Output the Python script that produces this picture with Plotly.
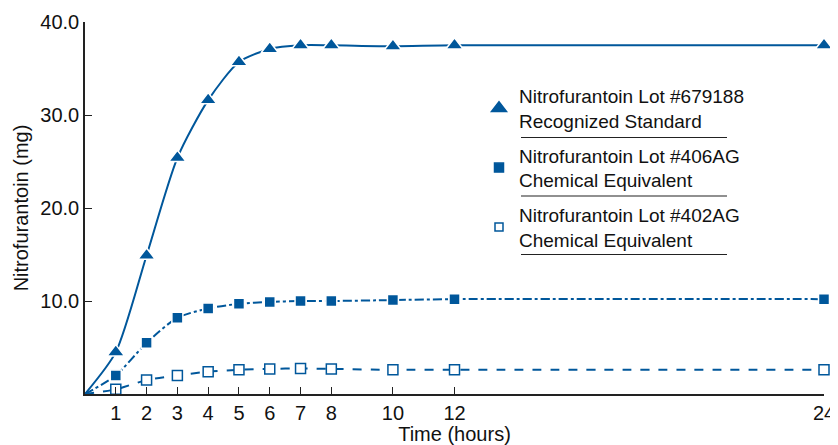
import plotly.graph_objects as go

time_h = [0, 1, 2, 3, 4, 5, 6, 7, 8, 10, 12, 24]
lot_679188 = [0, 4.5, 14.9, 25.4, 31.6, 35.7, 37.1, 37.5, 37.5, 37.4, 37.5, 37.5]
lot_406AG = [0, 2.0, 5.5, 8.2, 9.2, 9.7, 9.9, 10.0, 10.0, 10.1, 10.2, 10.2]
lot_402AG = [0, 0.5, 1.5, 2.0, 2.4, 2.6, 2.7, 2.75, 2.7, 2.6, 2.6, 2.6]
x_ticks = [1, 2, 3, 4, 5, 6, 7, 8, 10, 12, 24]
y_ticks = [10, 20, 30, 40]
y_tick_labels = ["10.0", "20.0", "30.0", "40.0"]
names = [
    "Nitrofurantoin Lot #679188<br>Recognized Standard",
    "Nitrofurantoin Lot #406AG<br>Chemical Equivalent",
    "Nitrofurantoin Lot #402AG<br>Chemical Equivalent",
]

BLUE = "#00579b"
FONT = "Liberation Sans, Arial, sans-serif"
FS = 20
FS_LEG = 19

# (values, symbol, size, fill, outline, dash)
series = [
    (lot_679188, "triangle-up", 15, BLUE, "white", "solid"),
    (lot_406AG, "square", 11, BLUE, "white", "dashdot"),
    (lot_402AG, "square", 10, "white", BLUE, "dash"),
]

fig = go.Figure()
for vals, sym, size, fill, outline, dash in series:
    fig.add_trace(go.Scatter(
        x=time_h, y=vals, mode="lines", showlegend=False,
        line=dict(color=BLUE, width=2, dash=dash, shape="spline", smoothing=0.7),
    ))
    fig.add_trace(go.Scatter(
        x=time_h[1:], y=vals[1:], mode="markers", showlegend=False, cliponaxis=False,
        marker=dict(symbol=sym, size=size, color=fill, line=dict(color=outline, width=1.5)),
    ))
for i, (vals, sym, size, fill, outline, dash) in enumerate(series):
    fig.add_trace(go.Scatter(
        x=[None], y=[None], mode="markers", name=names[i], legendgroup=str(i),
        marker=dict(symbol=sym, size=size - 2, color=fill,
                    line=dict(color=BLUE if fill == "white" else fill, width=1.5)),
    ))

# body has an 8px default margin in the written page
OFF = 8
L, R, T, B = 77, 14, 14, 51
FW, FH = 830, 437
W, H = FW - L - R, FH - T - B
def px(xw):
    return (xw - OFF - L) / W
def py(yw):
    return 1 - (yw - OFF - T) / H
for yline in [137.5, 196, 254.5]:
    fig.add_shape(type="line", xref="paper", yref="paper",
                  x0=px(521), x1=px(727), y0=py(yline), y1=py(yline),
                  line=dict(color="#222", width=1.2))

fig.update_layout(
    width=FW, height=FH,
    margin=dict(l=L, r=R, t=T, b=B),
    paper_bgcolor="white", plot_bgcolor="white",
    font=dict(family=FONT, size=FS, color="#111"),
    legend=dict(x=px(479), y=py(77), xanchor="left", yanchor="top",
                bgcolor="rgba(0,0,0,0)", tracegroupgap=7,
                font=dict(size=FS_LEG), itemwidth=30),
    xaxis=dict(range=[0, 24], tickvals=x_ticks, ticks="inside", ticklen=7,
               tickcolor="#222", showline=True, linecolor="#222", linewidth=1.5,
               showgrid=False, zeroline=False, automargin=False,
               tickfont=dict(size=FS),
               title=dict(text="Time (hours)", standoff=1, font=dict(size=FS))),
    yaxis=dict(range=[0, 40], tickvals=y_ticks, ticktext=y_tick_labels, ticks="inside",
               ticklen=7, tickcolor="#222", showline=True, linecolor="#222", linewidth=1.5,
               showgrid=False, zeroline=False, automargin=False,
               tickfont=dict(size=FS),
               title=dict(text="Nitrofurantoin (mg)", standoff=6, font=dict(size=FS))),
)

fig.write_html("out.html")
